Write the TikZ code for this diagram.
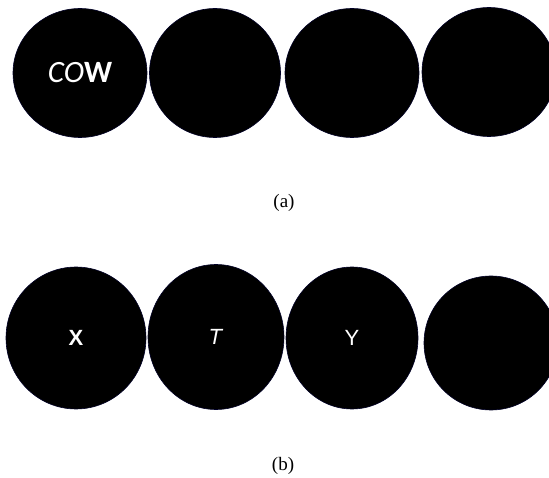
\documentclass[tikz,border=0pt]{standalone}
\usepackage{fontspec}
\setmainfont{Liberation Serif}
\newfontfamily\carl{Carlito}
\newfontfamily\arl{Liberation Sans}
\usetikzlibrary{shapes.geometric}
\tikzset{
  disc/.style={ellipse, fill=black, draw=black!85!blue, line width=0.6pt, inner sep=0pt, text=white},
  capt/.style={inner sep=0pt, font=\fontsize{19}{19}\selectfont}
}
\begin{document}
\begin{tikzpicture}[x=1pt,y=-1pt]
\useasboundingbox (0,0) rectangle (549,478);
\clip (0,0) rectangle (549,478);
% row (a)
\node[disc, minimum width=134pt, minimum height=129pt] (a1) at (80,73) {\carl\fontsize{31}{31}\selectfont\textit{CO}\textbf{W}};
\node[disc, minimum width=131pt, minimum height=129pt] (a2) at (215,73) {};
\node[disc, minimum width=134pt, minimum height=129pt] (a3) at (352,73) {};
\node[disc, minimum width=134pt, minimum height=129pt] (a4) at (489,72) {};
\node[capt] (ca) at (284,203) {(a)};
% row (b)
\node[disc, minimum width=140pt, minimum height=142pt] (b1) at (76,338) {\arl\fontsize{22}{22}\selectfont\textbf{X}};
\node[disc, minimum width=136pt, minimum height=145pt] (b2) at (216,337) {\arl\fontsize{22}{22}\selectfont\textit{T}};
\node[disc, minimum width=132pt, minimum height=142pt] (b3) at (352,338) {\arl\fontsize{22}{22}\selectfont Y};
\node[disc, minimum width=134pt, minimum height=134pt] (b4) at (491,343) {};
\node[capt] (cb) at (283,466) {(b)};
\end{tikzpicture}
\end{document}
